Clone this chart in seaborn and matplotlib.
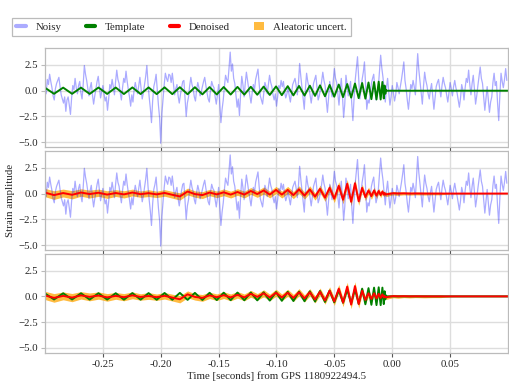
import numpy as np
import matplotlib
matplotlib.use("Agg")
import matplotlib.pyplot as plt
from matplotlib.lines import Line2D
from matplotlib.patches import Patch
import seaborn as sns

# Estilo
sns.set_theme(style="whitegrid")
plt.rcParams['font.family'] = ['Liberation Serif', 'DejaVu Serif']
plt.rcParams['font.size'] = 7.8
plt.rcParams['xtick.labelsize'] = 7.8
plt.rcParams['ytick.labelsize'] = 7.8
plt.rcParams['axes.labelsize'] = 7.8
plt.rcParams['axes.edgecolor'] = '#bbbbbb'
plt.rcParams['grid.color'] = '#dddddd'

# --- dados ---
# sinal ruidoso, amostrado a cada 1 ms a partir de t = -0.300 s
noisy = [
    0.4, -0.3, 1.1, 0.6, 1.6, 0.9, 0.3, -0.5, -0.9, 0.2, 0.7, 1.0, 1.3, 0.4, -0.4, -0.8, -1.2, -0.6, -2.0, -0.9,
    -0.6, -1.4, -2.3, -0.7, 0.5, 0.1, 1.2, 0.3, -0.3, 0.5, 0.9, -0.2, -0.8, 0.6, 2.45, 1.6, 1.0, 0.2, -0.5, 0.3,
    0.8, -0.4, -1.3, -0.5, 0.2, 0.9, 1.4, 0.3, -0.7, -0.1, 0.5, -0.3, -1.0, -0.6, -1.9, -0.8, 0.6, 0.2, 1.1, 0.4,
    -0.4, 0.9, 2.0, 1.1, 0.7, -0.2, -0.9, 0.3, 1.2, 0.8, 1.9, 0.9, 0.1, -0.6, -1.5, -0.4, -1.1, 0.1, 0.8, 0.2,
    -0.3, 0.5, 1.3, 0.2, -0.8, -0.2, 0.6, 1.4, 2.45, 0.7, -0.6, -1.7, -3.1, -1.0, 0.4, 0.9, 1.6, 0.1, -1.4, -2.6,
    -5.1, -2.2, -0.8, 0.6, 1.7, 1.2, 0.9, 1.6, 1.5, 0.8, 1.7, 0.6, -0.4, 0.2, 0.6, -0.5, -1.2, -0.4, 0.3, 0.9,
    1.0, -0.7, -2.5, -1.2, -0.6, 0.5, 1.3, 0.6, 0.2, -0.6, -1.0, 0.1, 0.8, 0.3, -0.5, -0.1, 0.4, 0.9, 1.3, 0.5,
    -0.2, -0.8, -1.1, 0.1, 0.9, 0.5, 0.3, -0.6, -1.3, -0.4, 0.6, -1.2, -3.1, -1.8, -0.9, 0.4, 1.5, 1.1, 0.8, 2.2,
    3.75, 1.9, 2.6, 1.2, 0.7, -0.5, -1.6, -0.8, -2.4, -0.3, 1.4, 0.6, -0.6, 0.7, 1.8, 1.0, 0.2, -0.5, -1.2, -0.2,
    0.6, 0.1, 1.1, 1.6, 2.1, 0.7, -0.5, -0.9, -1.3, -0.2, 0.8, 0.4, -0.3, 0.6, 1.5, 0.8, 0.4, -0.4, -0.9, -0.3,
    -1.5, -0.6, 0.5, 0.2, 1.0, 0.4, 0.9, -0.1, -0.7, -0.3, 0.3, -0.5, -1.1, -0.2, 0.6, 0.9, 1.2, 0.5, -0.4, 0.8,
    2.65, 1.4, 0.3, -0.8, -1.8, 0.2, 1.7, 0.9, 0.4, -0.4, -1.2, -0.3, 0.7, 1.1, 1.5, 0.3, -0.9, -0.5, 0.2, 0.9,
    1.8, 1.0, 0.5, -0.9, -2.1, -0.7, 0.9, 0.2, -0.6, 0.9, 2.15, 1.2, 0.8, -0.3, -1.4, 0.1, 1.2, -0.5, -2.6, -1.3,
    1.5, 0.6, -0.5, 0.2, 0.9, -1.2, -2.9, -0.8, 1.0, 2.1, 3.3, 1.2, -0.8, 0.1, 1.1, 1.8, 2.8, 0.4, -1.8, -0.9,
    -1.2, -0.3, 0.7, 1.2, 1.6, 0.2, -0.9, -0.4, 0.4, 1.9, 3.45, 2.2, 1.3, 0.1, -1.1, 0.3, 1.2, -0.2, -1.4, -0.6,
    0.5, -0.2, -1.0, -0.4, 0.8, 0.3, -0.3, 0.4, 1.1, 1.9, 2.8, 1.0, 0.2, -0.9, -1.8, -0.6, 0.6, 0.2, 1.0, 0.4,
    -0.4, 1.7, 3.6, 2.0, 0.9, -0.2, -1.3, 0.4, 1.8, 1.0, 0.5, -0.3, -0.8, 0.1, 0.7, -0.6, -1.8, -0.7, 0.4, 0.8,
    1.1, 0.2, -0.6, 0.5, 1.3, 0.7, 0.3, -0.4, -1.1, -0.2, 0.8, 0.2, -0.5, 0.4, 1.0, 0.3, -0.2, -0.9, -1.6, -0.7,
    0.6, 0.1, -0.9, 0.3, 1.2, 0.8, 2.0, 0.6, -0.4, 0.7, 1.5, 0.2, -1.3, -0.5, 0.5, 1.4, 2.3, 1.2, 0.7, -0.6,
    -1.9, -0.8, 0.4, -0.9, -2.1, -1.1, -0.6, 0.8, 1.7, 0.5, 0.9, -1.2, -2.9, -0.4, 1.7, 0.9, 0.3, 1.1, 2.15, 1.0,
]
t_noisy = -0.3 + 0.001 * np.arange(len(noisy))

# instantes dos picos/vales do template (chirp) e cauda
wave_t = [
    -0.3002, -0.2922, -0.2843, -0.2766, -0.2689, -0.2614, -0.2538, -0.2463,
    -0.2389, -0.2318, -0.2245, -0.2174, -0.2105, -0.2035, -0.1967, -0.1900,
    -0.1835, -0.1768, -0.1705, -0.1640, -0.1578, -0.1516, -0.1456, -0.1396,
    -0.1337, -0.1278, -0.1222, -0.1166, -0.1111, -0.1058, -0.1004, -0.0954,
    -0.0903, -0.0854, -0.0805, -0.0758, -0.0712, -0.0667, -0.0624, -0.0581,
    -0.0541, -0.0501, -0.0462, -0.0425, -0.0389, -0.0355, -0.0322, -0.0290,
    -0.0260, -0.0232, -0.0205, -0.0180, -0.0157, -0.0136, -0.0117, -0.0100,
    -0.0085, -0.0073, -0.0066, -0.0060, -0.0054, -0.0048, -0.0020, 0.0010,
    0.0050, 0.0100, 0.0150, 0.0200, 0.0280, 0.0350, 0.0420, 0.0460,
    0.0520, 0.0700, 0.1000,
]
template = [
    0.30, -0.30, 0.30, -0.30, 0.30, -0.31, 0.31, -0.31,
    0.31, -0.32, 0.32, -0.32, 0.32, -0.33, 0.33, -0.33,
    0.34, -0.34, 0.34, -0.35, 0.35, -0.36, 0.36, -0.37,
    0.37, -0.38, 0.38, -0.39, 0.40, -0.41, 0.42, -0.43,
    0.44, -0.45, 0.46, -0.47, 0.49, -0.50, 0.52, -0.54,
    0.56, -0.58, 0.60, -0.62, 0.65, -0.67, 0.70, -0.72,
    0.75, -0.77, 0.80, -0.82, 0.85, -0.85, 0.88, -0.85,
    0.85, -0.75, 0.50, -0.30, 0.10, 0.00, 0.00, 0.00,
    0.00, 0.00, 0.00, 0.00, 0.00, 0.00, 0.00, 0.00,
    0.00, 0.00, 0.00,
]
denoised = [
    0.10, -0.15, 0.05, -0.12, 0.10, -0.05, 0.08, -0.10,
    0.05, -0.08, 0.10, -0.06, 0.04, -0.08, 0.06, -0.12,
    -0.28, 0.20, -0.05, -0.15, 0.10, -0.08, 0.12, -0.10,
    0.15, -0.10, 0.25, -0.05, 0.30, -0.10, 0.35, -0.10,
    0.35, -0.15, 0.40, -0.20, 0.40, -0.30, 0.45, -0.40,
    0.55, -0.50, 0.75, -0.60, 0.95, -0.80, 1.00, -0.75,
    0.55, -0.35, 0.30, -0.25, 0.30, -0.20, 0.25, -0.15,
    0.20, -0.10, 0.05, -0.10, -0.05, -0.08, -0.02, 0.03,
    0.00, 0.02, 0.00, 0.01, 0.00, 0.00, 0.00, 0.00,
    0.00, 0.00, 0.00,
]
uncert = [
    0.40, 0.42, 0.38, 0.40, 0.36, 0.38, 0.35, 0.37,
    0.33, 0.35, 0.33, 0.31, 0.33, 0.31, 0.32, 0.33,
    0.35, 0.33, 0.31, 0.33, 0.31, 0.32, 0.33, 0.33,
    0.32, 0.33, 0.33, 0.32, 0.34, 0.32, 0.34, 0.33,
    0.34, 0.34, 0.35, 0.34, 0.35, 0.34, 0.36, 0.36,
    0.38, 0.38, 0.40, 0.40, 0.42, 0.40, 0.42, 0.40,
    0.36, 0.34, 0.33, 0.31, 0.30, 0.29, 0.28, 0.26,
    0.25, 0.23, 0.22, 0.22, 0.20, 0.20, 0.18, 0.16,
    0.18, 0.14, 0.15, 0.13, 0.14, 0.12, 0.12, 0.07,
    0.03, 0.02, 0.02,
]

x_ticks = [-0.25, -0.20, -0.15, -0.10, -0.05, 0.00, 0.05]
y_ticks = [2.5, 0.0, -2.5, -5.0]

wave_t = np.array(wave_t)
denoised = np.array(denoised)
uncert = np.array(uncert)

c_noisy = 'blue'
c_temp = 'green'
c_den = 'red'
c_unc = 'orange'

fig = plt.figure(figsize=(5.09, 3.88), dpi=100)
gs = fig.add_gridspec(3, 1, left=0.0884, right=0.998, top=0.8763, bottom=0.0902, hspace=0.035)
ax1 = fig.add_subplot(gs[0])
ax2 = fig.add_subplot(gs[1], sharex=ax1, sharey=ax1)
ax3 = fig.add_subplot(gs[2], sharex=ax1, sharey=ax1)

# painel 1: ruidoso + template
sns.lineplot(x=t_noisy, y=noisy, ax=ax1, color=c_noisy, alpha=0.33, lw=0.9)
sns.lineplot(x=wave_t, y=template, ax=ax1, color=c_temp, lw=1.4)

# painel 2: ruidoso + incerteza + denoised
sns.lineplot(x=t_noisy, y=noisy, ax=ax2, color=c_noisy, alpha=0.33, lw=0.9)
ax2.fill_between(wave_t, denoised - uncert, denoised + uncert, color=c_unc, alpha=0.75, lw=0)
sns.lineplot(x=wave_t, y=denoised, ax=ax2, color=c_den, lw=1.4)

# painel 3: incerteza + template + denoised
ax3.fill_between(wave_t, denoised - uncert, denoised + uncert, color=c_unc, alpha=0.75, lw=0)
sns.lineplot(x=wave_t, y=template, ax=ax3, color=c_temp, lw=1.4)
sns.lineplot(x=wave_t, y=denoised, ax=ax3, color=c_den, lw=1.4)

for ax in (ax1, ax2, ax3):
    ax.set_xlim(-0.3, 0.1)
    ax.set_ylim(-5.5, 4.15)
    ax.set_xticks(x_ticks)
    ax.set_yticks(y_ticks)
    ax.set_ylabel('')
    ax.tick_params(axis='x', bottom=True, length=3, width=0.8, color='#555555', pad=2)
    ax.tick_params(axis='y', left=True, length=3, width=0.8, color='#bbbbbb', pad=2)
    for s in ax.spines.values():
        s.set_color('#bbbbbb')
        s.set_linewidth(0.9)
for ax in (ax1, ax2):
    ax.tick_params(axis='x', labelbottom=False)

ax3.set_xticklabels(['%.2f' % v for v in x_ticks])
ax3.set_xlabel('Time [seconds] from GPS 1180922494.5', labelpad=2)
fig.text(10.5 / 509, 1 - 200 / 388, 'Strain amplitude', rotation=90, ha='center', va='center', fontsize=7.8)

handles = [
    Line2D([], [], color=c_noisy, alpha=0.33, lw=3),
    Line2D([], [], color=c_temp, lw=3),
    Line2D([], [], color=c_den, lw=3),
    Patch(facecolor=c_unc, alpha=0.75, edgecolor='none'),
]
labels = ['Noisy', 'Template', 'Denoised', 'Aleatoric uncert.']
leg = fig.legend(handles, labels, loc='upper left', bbox_to_anchor=(12 / 509, 1 - 18 / 388),
                 ncol=4, frameon=True, fancybox=False, edgecolor='#aaaaaa', fontsize=7.8,
                 handlelength=0.9, handletextpad=0.9, columnspacing=2.2, borderpad=0.4,
                 borderaxespad=0)
leg.get_frame().set_linewidth(0.9)

fig.savefig('out.png', dpi=100)
plt.close(fig)
